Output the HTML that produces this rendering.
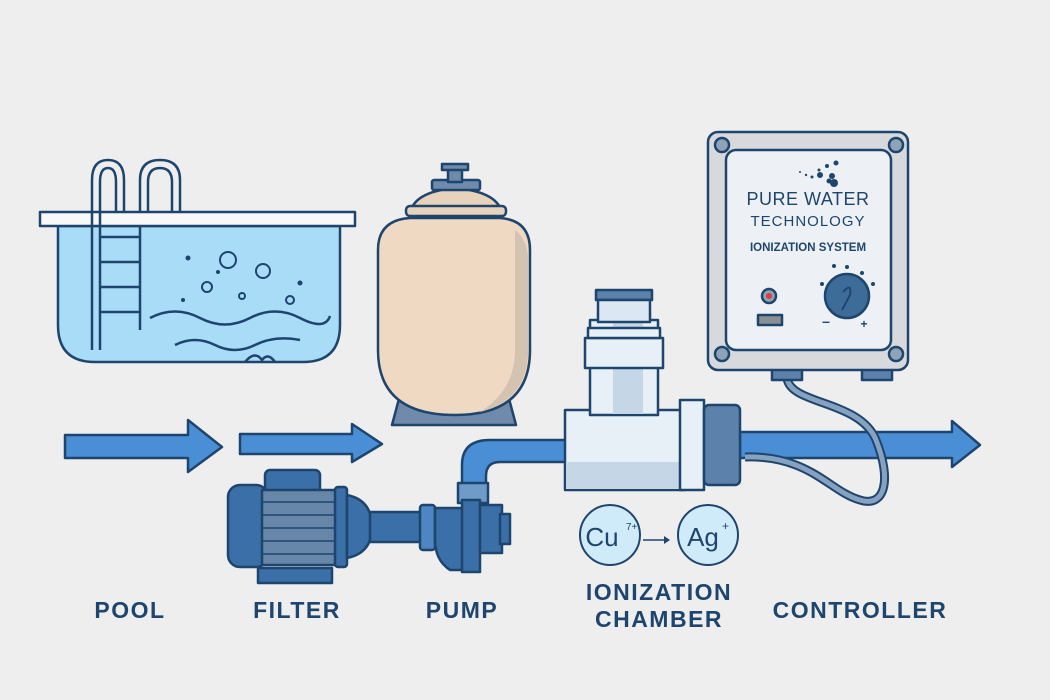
<!DOCTYPE html>
<html><head><meta charset="utf-8"><style>
html,body{margin:0;padding:0;background:#eeeeee;}
svg{display:block}
text{font-family:"Liberation Sans",sans-serif;}
</style></head><body>
<svg width="1050" height="700" viewBox="0 0 1050 700" xmlns="http://www.w3.org/2000/svg">
<rect width="1050" height="700" fill="#eeeeee"/>
<g stroke="#1e456d" stroke-width="2.5" stroke-linejoin="round">
<!-- Pool -->
<path d="M58 226 H340 V325 Q340 362 303 362 H95 Q58 362 58 325 Z" fill="#a8dcf7"/>
<rect x="40" y="212" width="315" height="14" fill="#f8f8f8"/>
<g fill="none" stroke-width="2.5">
<path d="M92 350 V180 Q92 160 108 160 Q124 160 124 180 V212"/>
<path d="M100 350 V182 Q100 168 108 168 Q116 168 116 182 V212"/>
<path d="M140 212 V180 Q140 160 160 160 Q180 160 180 180 V212"/>
<path d="M148 212 V182 Q148 168 160 168 Q172 168 172 182 V212"/>
<path d="M100 237 H140 M100 262 H140 M100 287 H140 M100 312 H140"/>
<path d="M140 226 V330"/>
<path d="M150 318 Q175 305 200 318 T250 318 T300 318 T330 316"/>
<path d="M175 345 Q195 335 215 345 T255 345 T300 340"/>
<path d="M245 362 Q255 350 262 360 Q268 352 275 362"/>
</g>
<g fill="none" stroke-width="2">
<circle cx="228" cy="260" r="8"/><circle cx="263" cy="271" r="7"/><circle cx="207" cy="287" r="5"/>
<circle cx="290" cy="300" r="4"/><circle cx="242" cy="296" r="3"/>
</g>
<g fill="#1e456d" stroke="none"><circle cx="188" cy="258" r="2.5"/><circle cx="300" cy="283" r="2.5"/><circle cx="183" cy="300" r="2"/><circle cx="218" cy="272" r="2"/></g>
<!-- Filter -->
<path d="M392 425 L400 395 H508 L516 425 Z" fill="#6f8aab"/>
<path d="M378 250 Q378 220 410 218 H500 Q530 220 530 250 V350 Q530 415 455 415 Q378 415 378 350 Z" fill="#efd9c3"/>
<path d="M515 230 Q528 240 528 260 V350 Q528 400 480 412 Q515 390 515 350 Z" fill="#d4c3b0" stroke="none"/>
<path d="M410 215 Q412 192 455 188 Q500 192 502 215 Z" fill="#e7d3bb"/>
<rect x="406" y="206" width="100" height="10" rx="4" fill="#e7d3bb"/>
<rect x="432" y="180" width="48" height="10" rx="2" fill="#6f8aab"/>
<rect x="448" y="166" width="14" height="16" fill="#6f8aab"/>
<rect x="442" y="164" width="26" height="6" fill="#6f8aab"/>
<!-- Arrows -->
<path d="M65 435 H188 V420 L222 447 L188 472 V458 H65 Z" fill="#4a8fd6"/>
<path d="M240 434 H352 V424 L382 444 L352 462 V454 H240 Z" fill="#4a8fd6"/>
<path d="M740 432 H952 V421 L980 445 L952 467 V458 H740 Z" fill="#4a8fd6"/>
<!-- Pipe -->
<path d="M462 488 V465 Q462 440 490 440 H568 V462 H500 Q486 462 486 476 V488 Z" fill="#4a8fd6"/>
<!-- Pump -->
<rect x="258" y="568" width="74" height="15" fill="#3a6fa8"/>
<rect x="265" y="470" width="55" height="25" rx="5" fill="#3a6fa8"/>
<rect x="228" y="485" width="40" height="82" rx="12" fill="#3a6fa8"/>
<rect x="262" y="490" width="80" height="75" fill="#6886a8"/>
<path d="M262 502 H342 M262 515 H342 M262 528 H342 M262 541 H342 M262 554 H342" stroke-width="1.5"/>
<rect x="335" y="487" width="12" height="80" rx="3" fill="#3a6fa8"/>
<path d="M347 495 Q372 500 372 527 Q372 553 347 558 Z" fill="#3a6fa8"/>
<rect x="370" y="512" width="55" height="30" fill="#3a6fa8"/>
<rect x="420" y="505" width="15" height="45" rx="3" fill="#4d86c3"/>
<path d="M435 508 H470 V570 H450 Q435 560 435 540 Z" fill="#3a6fa8"/>
<rect x="458" y="483" width="30" height="20" fill="#6f9bc9"/>
<rect x="462" y="500" width="18" height="72" fill="#3a6fa8"/>
<rect x="480" y="505" width="22" height="48" fill="#3a6fa8"/>
<rect x="500" y="514" width="10" height="30" fill="#3a6fa8"/>
<!-- Tee -->
<rect x="565" y="410" width="120" height="80" fill="#e8f0f7"/>
<rect x="566" y="462" width="118" height="27" fill="#c5d6e6" stroke="none"/>
<rect x="590" y="320" width="68" height="95" fill="#e8f0f7"/>
<rect x="613" y="322" width="30" height="92" fill="#c5d6e6" stroke="none"/>
<rect x="585" y="338" width="78" height="30" fill="#e8f0f7"/>
<rect x="588" y="328" width="72" height="10" fill="#e8f0f7"/>
<rect x="596" y="290" width="56" height="10" fill="#5c82ab"/>
<rect x="598" y="300" width="52" height="22" fill="#dbe7f2"/>
<rect x="680" y="400" width="24" height="90" fill="#e8f0f7"/>
<rect x="704" y="405" width="36" height="80" rx="5" fill="#5c82ab"/>
<!-- cable -->
<path d="M787 378 C790 405 860 400 876 440 C892 480 885 508 860 500 C830 492 810 455 745 457" fill="none" stroke="#1e456d" stroke-width="9"/>
<path d="M787 378 C790 405 860 400 876 440 C892 480 885 508 860 500 C830 492 810 455 745 457" fill="none" stroke="#86a2c0" stroke-width="5"/>
<!-- Controller -->
<rect x="772" y="360" width="30" height="20" fill="#5c82ab"/>
<rect x="862" y="360" width="30" height="20" fill="#5c82ab"/>
<rect x="708" y="132" width="200" height="238" rx="10" fill="#d7d9dc"/>
<rect x="726" y="150" width="165" height="200" rx="10" fill="#edf1f5"/>
<g fill="#8ea3b8"><circle cx="722" cy="145" r="7"/><circle cx="896" cy="145" r="7"/><circle cx="722" cy="354" r="7"/><circle cx="896" cy="354" r="7"/></g>
<circle cx="769" cy="296" r="7" fill="#8ea3b8"/>
<rect x="758" y="315" width="24" height="10" fill="#8a8f96"/>
<circle cx="847" cy="296" r="22" fill="#3e6c98"/>
<path d="M843 292 Q852 282 850 295 L842 310" fill="none" stroke-width="2"/>
</g>
<circle cx="769" cy="296" r="3" fill="#e23b3b"/>
<g fill="#1e456d">
<circle cx="834" cy="266" r="2"/><circle cx="847" cy="267" r="2"/><circle cx="862" cy="273" r="2"/><circle cx="873" cy="284" r="2"/><circle cx="822" cy="284" r="2"/>
<circle cx="836" cy="163" r="2.5"/><circle cx="827" cy="166" r="2"/><circle cx="819" cy="170" r="1.5"/><circle cx="820" cy="175" r="3"/><circle cx="812" cy="177" r="1.5"/><circle cx="832" cy="176" r="3"/><circle cx="829" cy="181" r="2.5"/><circle cx="834" cy="183" r="4"/><circle cx="806" cy="175" r="1.2"/><circle cx="800" cy="172" r="1"/>
<text x="808" y="205" font-size="18" text-anchor="middle" letter-spacing="0.5">PURE WATER</text>
<text x="808" y="226" font-size="15" text-anchor="middle" letter-spacing="1">TECHNOLOGY</text>
<text x="808" y="251" font-size="11.5" font-weight="bold" text-anchor="middle">IONIZATION SYSTEM</text>
<text x="826" y="326" font-size="14" font-weight="bold" text-anchor="middle">–</text>
<text x="864" y="328" font-size="12" font-weight="bold" text-anchor="middle">+</text>
</g>
<!-- ions -->
<circle cx="610" cy="535" r="30" fill="#cfeaf8" stroke="#1e456d" stroke-width="2"/>
<circle cx="708" cy="535" r="30" fill="#cfeaf8" stroke="#1e456d" stroke-width="2"/>
<path d="M643 540 H668" stroke="#1e456d" stroke-width="1.5"/><path d="M664 536 L670 540 L664 544 Z" fill="#1e456d"/>
<g fill="#1e456d">
<text x="602" y="546" font-size="26" text-anchor="middle">Cu</text>
<text x="626" y="530" font-size="10">7+</text>
<text x="703" y="546" font-size="26" text-anchor="middle">Ag</text>
<text x="722" y="530" font-size="12">+</text>
<g font-size="23" font-weight="bold" letter-spacing="1.5" text-anchor="middle">
<text x="130" y="618">POOL</text>
<text x="297" y="618">FILTER</text>
<text x="462" y="618">PUMP</text>
<text x="659" y="600">IONIZATION</text>
<text x="659" y="627">CHAMBER</text>
<text x="860" y="618">CONTROLLER</text>
</g></g>
</svg>
</body></html>
